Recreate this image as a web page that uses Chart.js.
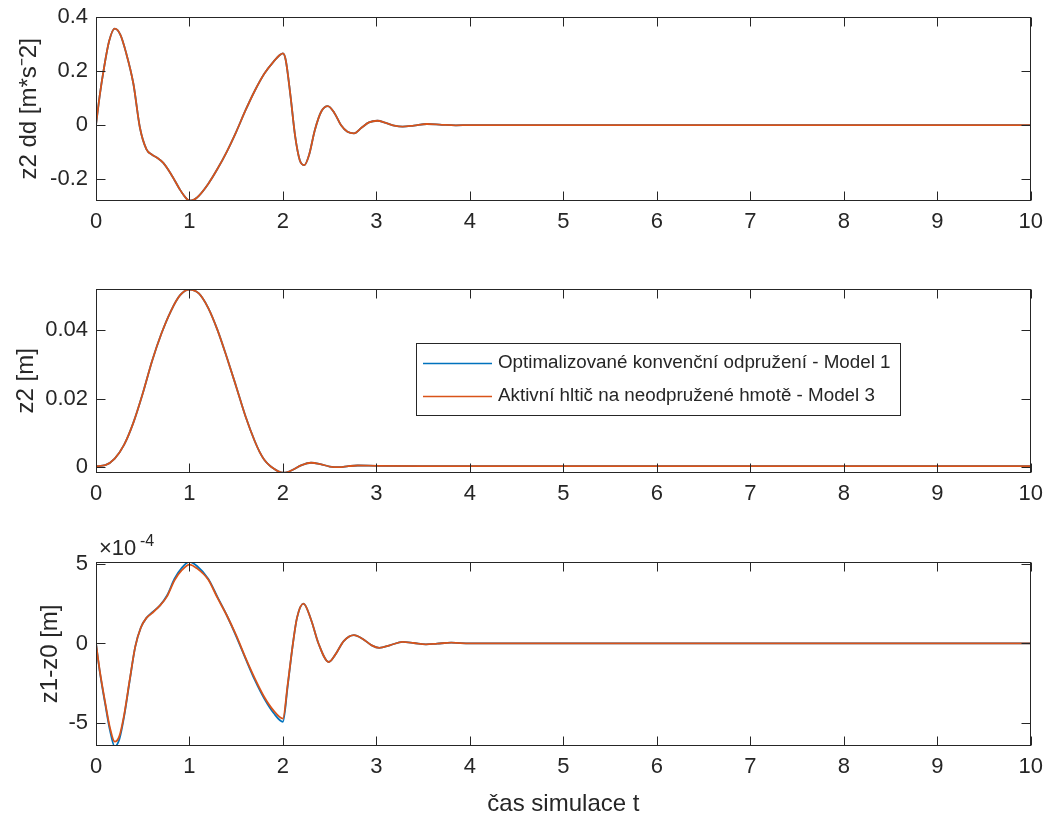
<!DOCTYPE html>
<html>
<head>
<meta charset="utf-8">
<script src="https://cdn.jsdelivr.net/npm/chart.js@4.4.1/dist/chart.umd.min.js"></script>
<style>
  body { margin: 0; background: #fff; }
  canvas { position: absolute; left: 0; }
</style>
</head>
<body>
<canvas id="accChart" width="1051" height="245" style="top:0"></canvas>
<canvas id="posChart" width="1051" height="245" style="top:272px"></canvas>
<canvas id="defChart" width="1051" height="299" style="top:520px"></canvas>
<script>
// popisky serii
const labelModel1 = 'Optimalizované konvenční odpružení - Model 1';
const labelModel3 = 'Aktivní hltič na neodpružené hmotě - Model 3';

const timeTicks = [0, 1, 2, 3, 4, 5, 6, 7, 8, 9, 10];

// zrychleni z2 dd
const accTime = [0, 0.04, 0.08, 0.14, 0.2, 0.26, 0.32, 0.4, 0.47, 0.54, 0.6, 0.65, 0.72, 0.8, 0.9, 0.95, 1.0, 1.05,
  1.1, 1.2, 1.3, 1.4, 1.5, 1.6, 1.7, 1.8, 1.9, 1.97, 2.0, 2.03, 2.08, 2.13, 2.18, 2.23, 2.28, 2.34,
  2.41, 2.48, 2.55, 2.62, 2.69, 2.76, 2.84, 2.92, 3.01, 3.1, 3.19, 3.28, 3.4, 3.54, 3.7, 3.85, 4.0,
  5, 6, 7, 8, 9, 10];
const accModel1 = [0, 0.11, 0.2, 0.31, 0.357, 0.335, 0.27, 0.153, -0.01, -0.09, -0.11, -0.12, -0.14, -0.18, -0.24, -0.265, -0.28, -0.276,
  -0.262, -0.218, -0.162, -0.098, -0.025, 0.055, 0.128, 0.19, 0.235, 0.26, 0.265, 0.24, 0.11, -0.04, -0.13, -0.148, -0.11, -0.02,
  0.05, 0.07, 0.045, 0.0, -0.025, -0.031, -0.01, 0.01, 0.016, 0.008, -0.002, -0.006, -0.002, 0.004, 0.001, -0.001, 0,
  0, 0, 0, 0, 0, 0];
// oba modely se v tomto grafu prekryvaji
const accModel3 = accModel1.slice();
const accTicks = [-0.2, 0, 0.2, 0.4];

// zdvih z2
const posTime = [0, 0.1, 0.2, 0.3, 0.4, 0.5, 0.6, 0.7, 0.8, 0.9, 1.0, 1.1, 1.2, 1.3, 1.4, 1.5, 1.6, 1.7, 1.75, 1.8,
  1.85, 1.9, 1.95, 2.0, 2.05, 2.1, 2.2, 2.3, 2.4, 2.5, 2.6, 2.7, 2.8, 3.0, 3.5, 4, 10];
const posModel1 = [0.0003, 0.0006, 0.0025, 0.0065, 0.013, 0.0215, 0.031, 0.039, 0.0455, 0.0502, 0.0518, 0.0507, 0.0465,
  0.040, 0.032, 0.0235, 0.0148, 0.0075, 0.0045, 0.0022, 0.0007, -0.0004, -0.0012, -0.0016, -0.0014, -0.0008, 0.0006,
  0.0013, 0.0009, 0.0002, 0.0, 0.0003, 0.0005, 0.0004, 0.0003, 0.0003, 0.0003];
const posModel3 = posModel1.slice();
const posTicks = [0, 0.02, 0.04];

// deformace pneu z1-z0 (x 1e-4)
const defTime = [0, 0.04, 0.1, 0.15, 0.2, 0.25, 0.3, 0.36, 0.42, 0.48, 0.54, 0.6, 0.68, 0.76, 0.84, 0.92, 1.0, 1.08,
  1.2, 1.3, 1.4, 1.5, 1.6, 1.7, 1.8, 1.9, 2.0, 2.05, 2.1, 2.15, 2.22, 2.3, 2.38, 2.49, 2.56, 2.65, 2.76, 2.85, 2.95,
  3.03, 3.15, 3.28, 3.4, 3.53, 3.65, 3.8, 4.0, 10];
const defModel1 = [0, -1.75, -3.85, -5.45, -6.45, -6.0, -4.6, -2.35, -0.2, 1.0, 1.6, 1.95, 2.35, 3.0, 4.05, 4.75, 5.12, 4.85,
  4.05, 2.9, 1.75, 0.45, -0.95, -2.3, -3.45, -4.35, -4.9, -2.7, -0.3, 1.6, 2.5, 1.5, 0.0, -1.16, -0.7, 0.15, 0.52, 0.3, -0.12,
  -0.27, -0.1, 0.1, 0.03, -0.06, -0.01, 0.05, 0, 0];
const defModel3 = [0, -1.7, -3.75, -5.3, -6.15, -5.8, -4.5, -2.3, -0.2, 1.0, 1.6, 1.9, 2.35, 2.95, 3.95, 4.6, 4.94, 4.7,
  4.0, 2.85, 1.75, 0.5, -0.9, -2.2, -3.35, -4.2, -4.7, -2.6, -0.3, 1.6, 2.5, 1.5, 0.0, -1.16, -0.7, 0.15, 0.52, 0.3, -0.12,
  -0.27, -0.1, 0.1, 0.03, -0.06, -0.01, 0.05, 0, 0];
const defTicks = [-5, 0, 5];

const blue = '#0072BD';
const orange = '#D95319';
const axisColor = '#262626';
const fontFamily = '"Liberation Sans", Arial, Helvetica, sans-serif';

function series(times, vals) {
  return times.map((t, i) => ({ x: t, y: vals[i] }));
}

// ramecek a tiky dovnitr jako v Matlabu
const boxPlugin = {
  id: 'boxPlugin',
  afterDatasetsDraw(chart) {
    const { ctx, chartArea: a, scales: { x, y } } = chart;
    const L = Math.round(a.left) + 0.5, R = Math.round(a.right) - 0.5;
    const T = Math.round(a.top) + 0.5, B = Math.round(a.bottom) - 0.5;
    const len = 9;
    ctx.save();
    ctx.strokeStyle = axisColor;
    ctx.lineWidth = 1;
    ctx.strokeRect(L, T, R - L, B - T);
    ctx.beginPath();
    x.ticks.forEach(t => {
      const px = Math.round(x.getPixelForValue(t.value)) + 0.5;
      ctx.moveTo(px, B); ctx.lineTo(px, B - len);
      ctx.moveTo(px, T); ctx.lineTo(px, T + len);
    });
    y.ticks.forEach(t => {
      const py = Math.round(y.getPixelForValue(t.value)) + 0.5;
      ctx.moveTo(L, py); ctx.lineTo(L + len, py);
      ctx.moveTo(R, py); ctx.lineTo(R - len, py);
    });
    ctx.stroke();
    ctx.restore();
  }
};

// legenda uvnitr prostredniho grafu
const legendPlugin = {
  id: 'legendPlugin',
  afterDraw(chart, args, opts) {
    if (!opts.show) return;
    const ctx = chart.ctx;
    ctx.save();
    ctx.fillStyle = '#fff';
    ctx.fillRect(416, 71, 484, 72);
    ctx.strokeStyle = axisColor;
    ctx.lineWidth = 1;
    ctx.strokeRect(416.5, 71.5, 484, 72);
    ctx.font = '18.8px ' + fontFamily;
    ctx.textBaseline = 'middle';
    chart.data.datasets.forEach((ds, i) => {
      const yy = 91 + i * 33;
      ctx.strokeStyle = ds.borderColor;
      ctx.lineWidth = 1.5;
      ctx.beginPath();
      ctx.moveTo(423, yy + 0.5); ctx.lineTo(492, yy + 0.5);
      ctx.stroke();
      ctx.fillStyle = axisColor;
      ctx.fillText(ds.label, 498, yy);
    });
    ctx.restore();
  }
};

// exponent nad osou
const exponentPlugin = {
  id: 'exponentPlugin',
  afterDraw(chart, args, opts) {
    if (!opts.show) return;
    const ctx = chart.ctx;
    ctx.save();
    ctx.fillStyle = axisColor;
    ctx.textBaseline = 'alphabetic';
    ctx.font = '22px ' + fontFamily;
    ctx.fillText('\u00d710', 99, 35);
    ctx.font = '16px ' + fontFamily;
    ctx.fillText('-4', 140, 26);
    ctx.restore();
  }
};

function makePanel(id, cfg) {
  return new Chart(document.getElementById(id), {
    type: 'line',
    data: {
      datasets: [
        { label: labelModel1, data: series(cfg.time, cfg.m1), borderColor: blue, order: 1 },
        { label: labelModel3, data: series(cfg.time, cfg.m3), borderColor: orange, order: 0 }
      ]
    },
    options: {
      responsive: false,
      animation: false,
      devicePixelRatio: 1,
      layout: { padding: { top: cfg.padTop, right: 18, left: 0, bottom: 0 } },
      elements: {
        point: { radius: 0 },
        line: { borderWidth: 1.8, cubicInterpolationMode: 'monotone' }
      },
      plugins: {
        legend: { display: false },
        tooltip: { enabled: false },
        legendPlugin: { show: !!cfg.legend },
        exponentPlugin: { show: !!cfg.exponent }
      },
      scales: {
        x: {
          type: 'linear',
          min: 0, max: 10,
          grid: { display: false, drawTicks: false },
          border: { display: false },
          afterBuildTicks: s => { s.ticks = timeTicks.map(v => ({ value: v })); },
          afterFit: s => { s.height = cfg.xHeight; },
          ticks: {
            padding: 8,
            color: axisColor,
            maxRotation: 0,
            font: { family: fontFamily, size: 22 },
            callback: v => String(v)
          },
          title: {
            display: !!cfg.xTitle,
            text: cfg.xTitle || '',
            color: axisColor,
            padding: { top: 0, bottom: 0 },
            font: { family: fontFamily, size: 24 }
          }
        },
        y: {
          min: cfg.yMin, max: cfg.yMax,
          grid: { display: false, drawTicks: false },
          border: { display: false },
          afterBuildTicks: s => { s.ticks = cfg.ticks.map(v => ({ value: v })); },
          afterFit: s => { s.width = 96; s.paddingTop = 0; s.paddingBottom = 0; },
          ticks: {
            padding: 8,
            color: axisColor,
            font: { family: fontFamily, size: 22 },
            callback: v => String(v)
          },
          title: {
            display: true,
            text: cfg.yTitle,
            color: axisColor,
            padding: { top: cfg.titlePad, bottom: 0 },
            font: { family: fontFamily, size: 24 }
          }
        }
      }
    },
    plugins: [boxPlugin, legendPlugin, exponentPlugin]
  });
}

makePanel('accChart', {
  time: accTime, m1: accModel1, m3: accModel3, ticks: accTicks,
  yMin: -0.28, yMax: 0.4, padTop: 17, xHeight: 44.3,
  yTitle: 'z2 dd [m*s\u207b2]', titlePad: 15
});

makePanel('posChart', {
  time: posTime, m1: posModel1, m3: posModel3, ticks: posTicks,
  yMin: -0.0016, yMax: 0.052, padTop: 17, xHeight: 44.3,
  yTitle: 'z2 [m]', titlePad: 12, legend: true
});

makePanel('defChart', {
  time: defTime, m1: defModel1, m3: defModel3, ticks: defTicks,
  yMin: -6.4, yMax: 5.1, padTop: 42, xHeight: 73.3,
  yTitle: 'z1-z0 [m]', titlePad: 36, exponent: true,
  xTitle: 'čas simulace t'
});
</script>
</body>
</html>
